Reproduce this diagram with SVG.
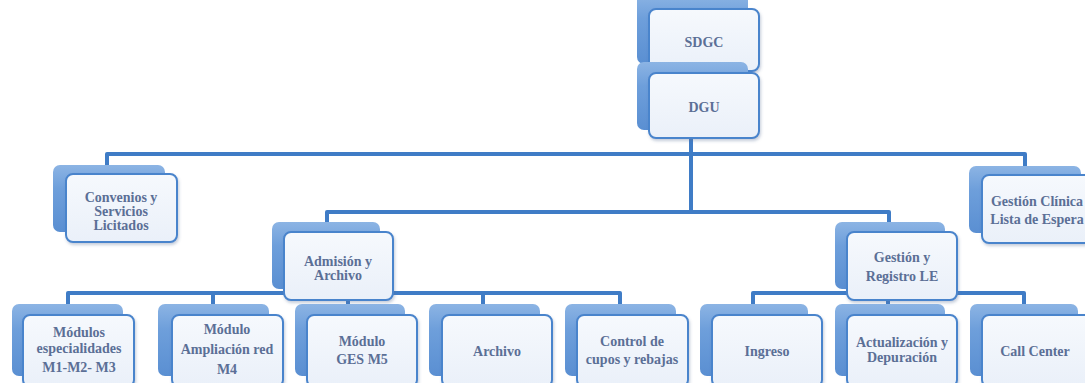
<svg xmlns="http://www.w3.org/2000/svg" width="1085" height="383" viewBox="0 0 1085 383">
<defs>
<linearGradient id="bg" x1="0" y1="0" x2="0" y2="1">
<stop offset="0" stop-color="#8cb4e4"/>
<stop offset="0.35" stop-color="#6e9fdb"/>
<stop offset="1" stop-color="#5a8fd2"/>
</linearGradient>
<linearGradient id="fg" x1="0" y1="0" x2="0" y2="1">
<stop offset="0" stop-color="#f6f9fd"/>
<stop offset="1" stop-color="#eaf0f9"/>
</linearGradient>
<filter id="sh" x="-10%" y="-10%" width="125%" height="130%">
<feDropShadow dx="1" dy="2" stdDeviation="1.5" flood-color="#5a6e94" flood-opacity="0.35"/>
</filter>
</defs>
<style>
.back{fill:url(#bg);}
.front{fill:url(#fg);stroke:#4a84cc;stroke-width:2;filter:url(#sh);}
.t{font-family:"Liberation Serif","DejaVu Serif",serif;font-size:14px;fill:#5b6f96;text-anchor:middle;font-weight:bold;}
.c{fill:none;stroke:#3f7cc6;stroke-width:4;stroke-linejoin:round;stroke-linecap:butt;}
</style>
<rect width="1085" height="383" fill="#ffffff"/>
<g id="connectors">
<path class="c" d="M691 138 V212"/>
<path class="c" d="M107 166 V154 H1025 V167"/>
<path class="c" d="M327 223 V212 H889 V223"/>
<path class="c" d="M348 300 V305"/>
<path class="c" d="M68 305 V293 H620 V305"/>
<path class="c" d="M213 293 V305"/>
<path class="c" d="M483 293 V305"/>
<path class="c" d="M888 300 V305"/>
<path class="c" d="M753 305 V293 H1024 V305"/>
</g>
<g id="n-sdgc">
<rect class="back" x="637" y="-6" width="111" height="70" rx="7"/>
<rect class="front" x="649" y="9" width="110" height="62" rx="7"/>
<text class="t" x="704" y="47">SDGC</text>
</g>
<g id="n-dgu">
<rect class="back" x="637" y="62" width="111" height="68" rx="7"/>
<rect class="front" x="649" y="73" width="110" height="65" rx="7"/>
<text class="t" x="704" y="112">DGU</text>
</g>
<g id="n-convenios">
<rect class="back" x="53" y="165" width="112" height="67" rx="7"/>
<rect class="front" x="66" y="174" width="111" height="68" rx="7"/>
<text class="t" x="121" y="202">Convenios y</text>
<text class="t" x="121" y="216">Servicios</text>
<text class="t" x="121" y="230">Licitados</text>
</g>
<g id="n-gclinica">
<rect class="back" x="969" y="166" width="112" height="67" rx="7"/>
<rect class="front" x="982" y="175" width="111" height="68" rx="7"/>
<text class="t" x="1037" y="206">Gestión Clínica</text>
<text class="t" x="1037" y="224">Lista de Espera</text>
</g>
<g id="n-admision">
<rect class="back" x="272" y="222" width="108" height="67" rx="7"/>
<rect class="front" x="284" y="232" width="109" height="68" rx="7"/>
<text class="t" x="338" y="266">Admisión y</text>
<text class="t" x="338" y="280">Archivo</text>
</g>
<g id="n-gregistro">
<rect class="back" x="835" y="222" width="110" height="67" rx="7"/>
<rect class="front" x="847" y="232" width="110" height="68" rx="7"/>
<text class="t" x="902" y="262">Gestión y</text>
<text class="t" x="902" y="281">Registro LE</text>
</g>
<g id="n-modulos">
<rect class="back" x="12" y="304" width="111" height="72" rx="7"/>
<rect class="front" x="23" y="315" width="111" height="72" rx="7"/>
<text class="t" x="79" y="337">Módulos</text>
<text class="t" x="79" y="353">especialidades</text>
<text class="t" x="79" y="372">M1-M2- M3</text>
</g>
<g id="n-ampliacion">
<rect class="back" x="158" y="304" width="111" height="72" rx="7"/>
<rect class="front" x="172" y="315" width="111" height="72" rx="7"/>
<text class="t" x="227" y="334">Módulo</text>
<text class="t" x="227" y="354">Ampliación red</text>
<text class="t" x="227" y="374">M4</text>
</g>
<g id="n-ges">
<rect class="back" x="295" y="304" width="110" height="72" rx="7"/>
<rect class="front" x="307" y="315" width="110" height="72" rx="7"/>
<text class="t" x="362" y="346">Módulo</text>
<text class="t" x="362" y="364">GES M5</text>
</g>
<g id="n-archivo">
<rect class="back" x="429" y="304" width="111" height="72" rx="7"/>
<rect class="front" x="442" y="315" width="110" height="72" rx="7"/>
<text class="t" x="497" y="356">Archivo</text>
</g>
<g id="n-control">
<rect class="back" x="565" y="304" width="111" height="72" rx="7"/>
<rect class="front" x="577" y="315" width="111" height="72" rx="7"/>
<text class="t" x="632" y="346">Control de</text>
<text class="t" x="632" y="364">cupos y rebajas</text>
</g>
<g id="n-ingreso">
<rect class="back" x="700" y="304" width="108" height="72" rx="7"/>
<rect class="front" x="712" y="315" width="110" height="72" rx="7"/>
<text class="t" x="767" y="356">Ingreso</text>
</g>
<g id="n-actualizacion">
<rect class="back" x="835" y="304" width="110" height="72" rx="7"/>
<rect class="front" x="847" y="315" width="110" height="72" rx="7"/>
<text class="t" x="902" y="347">Actualización y</text>
<text class="t" x="902" y="362">Depuración</text>
</g>
<g id="n-callcenter">
<rect class="back" x="970" y="304" width="108" height="72" rx="7"/>
<rect class="front" x="982" y="315" width="110" height="72" rx="7"/>
<text class="t" x="1035" y="356">Call Center</text>
</g>
</svg>
